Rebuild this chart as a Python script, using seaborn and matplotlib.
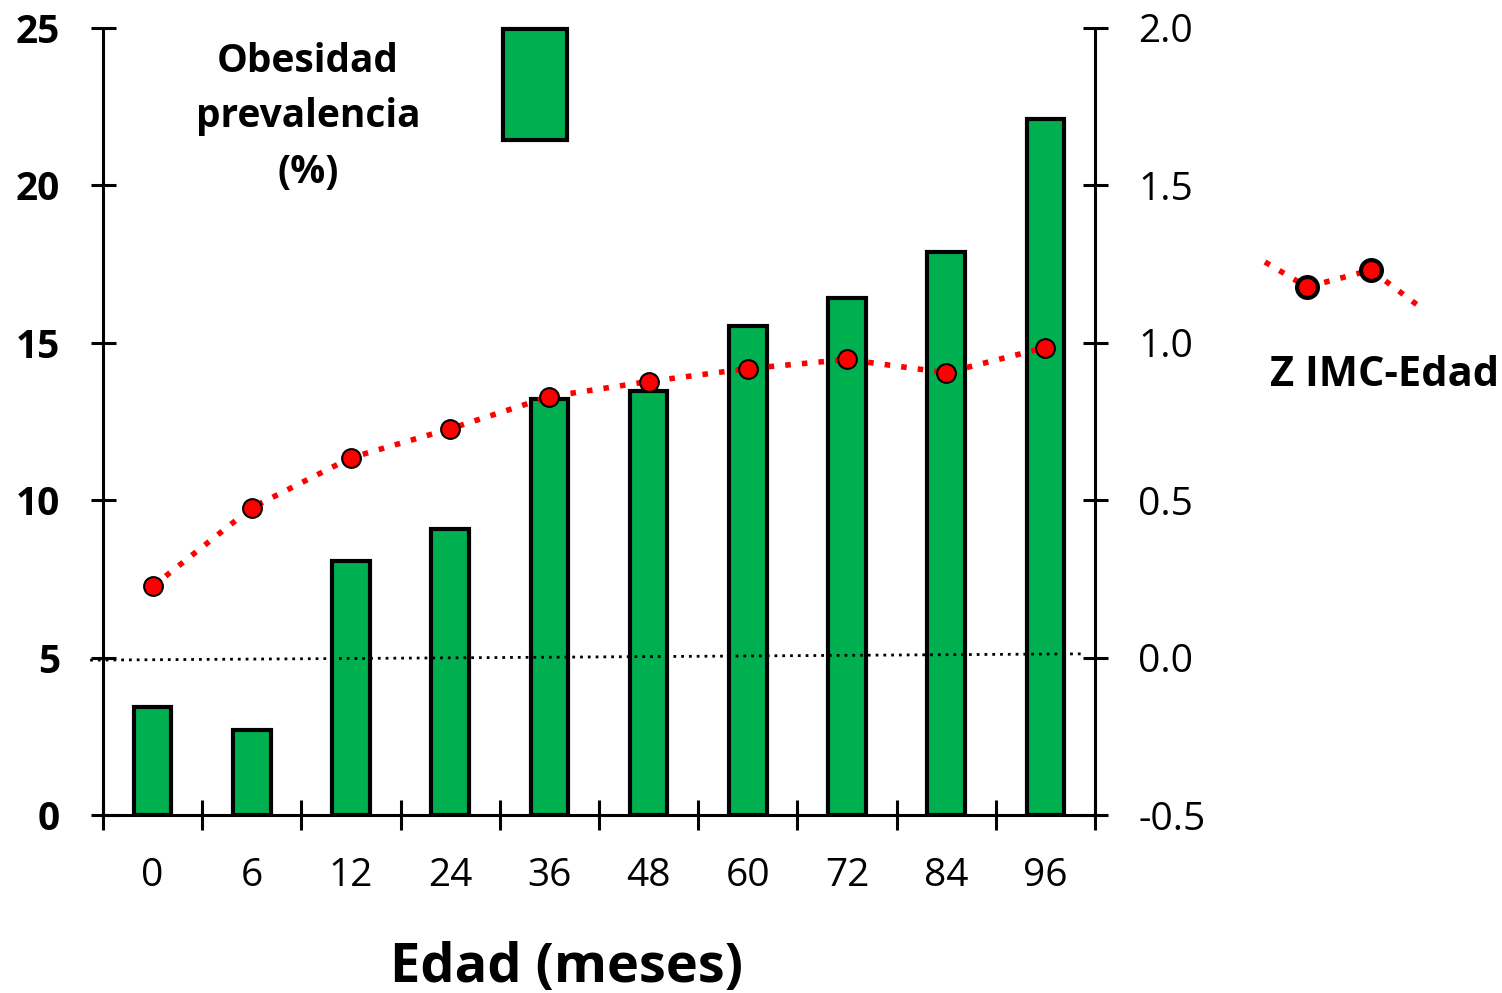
import matplotlib
matplotlib.use('Agg')
import matplotlib.pyplot as plt
from matplotlib.lines import Line2D
from matplotlib.patches import Rectangle
import seaborn as sns
import pandas as pd
import numpy as np

# Data
edad = ['0', '6', '12', '24', '36', '48', '60', '72', '84', '96']
obesidad = [3.43, 2.70, 8.07, 9.09, 13.21, 13.47, 15.53, 16.42, 17.88, 22.11]
z_imc = [0.226, 0.476, 0.635, 0.727, 0.829, 0.877, 0.918, 0.947, 0.905, 0.985]
# faint zero reference line (slightly tilted in the original)
ref_x = [-0.63, 9.4]
ref_z = [-0.008, 0.012]

left_ticks = [0, 5, 10, 15, 20, 25]
right_ticks = [-0.5, 0.0, 0.5, 1.0, 1.5, 2.0]

df = pd.DataFrame({'edad': edad, 'obesidad': obesidad, 'z': z_imc})
df['pos'] = np.arange(len(edad))

sns.set_style('white')
plt.rcParams['font.family'] = ['Open Sans', 'DejaVu Sans']
plt.rcParams['text.color'] = 'black'
plt.rcParams['axes.labelcolor'] = 'black'
plt.rcParams['xtick.color'] = 'black'
plt.rcParams['ytick.color'] = 'black'

green = '#00B050'
red = '#FF0000'

fig = plt.figure(figsize=(15.02, 9.93), dpi=100)
ax = fig.add_axes([103 / 1502, 1 - 815 / 993, 992 / 1502, 787 / 993])

sns.barplot(data=df, x='edad', y='obesidad', color=green, width=0.38,
            edgecolor='black', linewidth=3, saturation=1, ax=ax, zorder=2)
ax.set_ylim(0, 25)
ax.set_xlim(-0.5, 9.5)
ax.set_yticks(left_ticks)
ax.set_yticklabels([str(t) for t in left_ticks], fontweight='bold')

ax2 = ax.twinx()
sns.lineplot(data=df, x='pos', y='z', ax=ax2, color=red, linewidth=4,
             linestyle=(0, (1, 2.0)), marker='o', markersize=13.5,
             markerfacecolor=red, markeredgecolor='black', markeredgewidth=1.5)
ax2.plot(ref_x, ref_z, color='black', linewidth=2, linestyle=(0, (1, 1.8)),
         clip_on=False, zorder=1)
ax2.set_ylim(-0.5, 2.0)
ax2.set_yticks(right_ticks)
ax2.set_yticklabels([f'{t:.1f}' for t in right_ticks])
ax2.set_xlim(-0.5, 9.5)

# x ticks sit on the category boundaries, labels under the bars
ax.set_xticks(np.arange(-0.5, 10, 1.0))
ax.set_xticklabels([])
ax.set_xticks(np.arange(len(edad)), labels=edad, minor=True)
ax.tick_params(axis='x', which='minor', bottom=True, length=0, pad=30,
               labelsize=28)
ax.tick_params(axis='x', which='major', bottom=True, direction='inout',
               length=22, width=2.2, color='black')
ax.tick_params(axis='y', left=True, direction='inout', length=18, width=2.2,
               pad=22, labelsize=28, color='black')
ax2.tick_params(axis='y', right=True, direction='inout', length=18, width=2.2,
                pad=22, labelsize=28, color='black')

for a in (ax, ax2):
    a.spines['top'].set_visible(False)
    for s in ('left', 'right', 'bottom'):
        a.spines[s].set_linewidth(2.2)
        a.spines[s].set_color('black')
ax.spines['right'].set_visible(False)
ax2.spines['left'].set_visible(False)
ax2.spines['bottom'].set_visible(False)
ax.set_ylabel('')
ax2.set_ylabel('')
ax2.set_xlabel('')

ax.set_xlabel('Edad (meses)', fontsize=39, fontweight='bold', labelpad=33)
ax.xaxis.label.set_x((566 - 103) / 992)

# hand-made legend pieces
fig.text(308 / 1502, 1 - 117 / 993, 'Obesidad\nprevalencia\n(%)', ha='center',
         va='center', fontsize=28, fontweight='bold', linespacing=1.55)
fig.add_artist(Rectangle((503 / 1502, 1 - 140 / 993), 64 / 1502, 111 / 993,
                         facecolor=green, edgecolor='black', linewidth=3,
                         transform=fig.transFigure))
fig.add_artist(Line2D([1265 / 1502, 1307 / 1502, 1371 / 1502, 1420 / 1502],
                      [1 - 262 / 993, 1 - 287 / 993, 1 - 270 / 993, 1 - 307 / 993],
                      color=red, linewidth=4, linestyle=(0, (1, 2.0)),
                      marker='o', markevery=[1, 2], markersize=15,
                      markerfacecolor=red, markeredgecolor='black',
                      markeredgewidth=3, transform=fig.transFigure))
fig.text(1385 / 1502, 1 - 375 / 993, 'Z IMC-Edad', ha='center', va='center',
         fontsize=30, fontweight='bold')

fig.savefig('out.png', dpi=100)
